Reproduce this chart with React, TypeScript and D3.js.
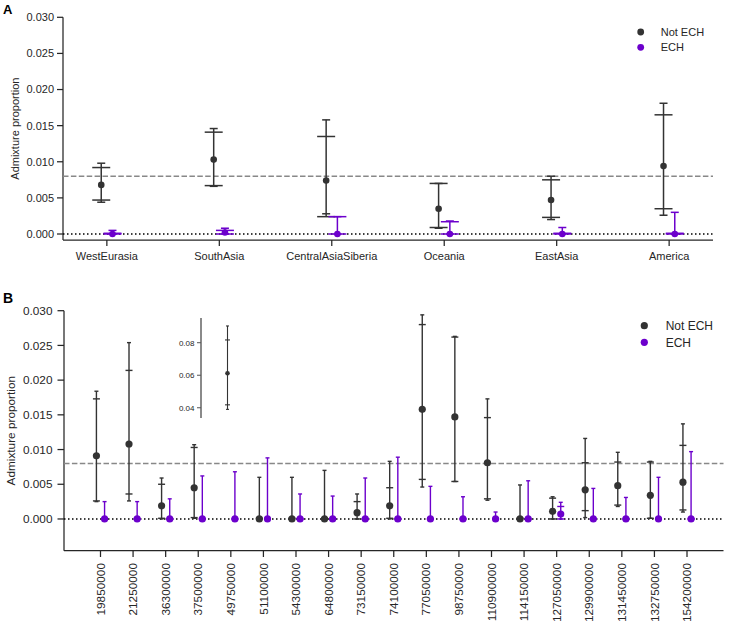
import React from 'react';
import * as d3 from 'd3';

// ---------- Panel A data ----------
const catsA = ['WestEurasia', 'SouthAsia', 'CentralAsiaSiberia', 'Oceania', 'EastAsia', 'America'];
const notEchA_mean = [0.0068, 0.0103, 0.0074, 0.0035, 0.0047, 0.0094];
const notEchA_wideLo = [0.0047, 0.0067, 0.0024, 0.0009, 0.0023, 0.0035];
const notEchA_wideHi = [0.0092, 0.0141, 0.0135, 0.0070, 0.0075, 0.0165];
const notEchA_narrowLo = [0.0044, 0.0066, 0.0028, 0.0008, 0.0020, 0.0026];
const notEchA_narrowHi = [0.0098, 0.0146, 0.0158, 0.0070, 0.0080, 0.0181];
const echA_mean = [0.0000, 0.0002, 0.0000, 0.0000, 0.0000, 0.0000];
const echA_wideLo = [0.0000, 0.0000, 0.0000, 0.0000, 0.0000, 0.0000];
const echA_wideHi = [0.0001, 0.0005, 0.0024, 0.0017, 0.0001, 0.0001];
const echA_narrowLo = [0.0000, 0.0000, 0.0000, 0.0000, 0.0000, 0.0000];
const echA_narrowHi = [0.0005, 0.0008, 0.0024, 0.0018, 0.0009, 0.0030];
const ticksA = [0, 0.005, 0.01, 0.015, 0.02, 0.025, 0.03];

// ---------- Panel B data ----------
const catsB = ['19850000', '21250000', '36300000', '37500000', '49750000', '51100000', '54300000', '64800000', '73150000', '74100000', '77050000', '98750000', '110900000', '114150000', '127050000', '129900000', '131450000', '132750000', '154200000'];
const notEchB_mean = [0.0091, 0.0108, 0.0019, 0.0045, null, 0.0000, 0.0000, 0.0000, 0.0009, 0.0019, 0.0158, 0.0147, 0.0081, 0.0000, 0.0011, 0.0042, 0.0048, 0.0034, 0.0053];
const notEchB_wideLo = [0.0026, 0.0036, 0.0001, 0.0002, null, 0.0000, 0.0000, 0.0000, 0.0000, 0.0001, 0.0057, 0.0054, 0.0029, 0.0000, 0.0000, 0.0012, 0.0020, 0.0001, 0.0013];
const notEchB_wideHi = [0.0173, 0.0214, 0.0050, 0.0103, null, 0.0001, 0.0001, 0.0001, 0.0025, 0.0045, 0.0280, 0.0262, 0.0146, 0.0001, 0.0030, 0.0081, 0.0082, 0.0082, 0.0106];
const notEchB_narrowLo = [0.0025, 0.0026, 0.0000, 0.0001, null, 0.0000, 0.0000, 0.0000, 0.0000, 0.0000, 0.0046, 0.0054, 0.0027, 0.0000, 0.0000, 0.0002, 0.0018, 0.0001, 0.0010];
const notEchB_narrowHi = [0.0184, 0.0254, 0.0059, 0.0107, null, 0.0060, 0.0060, 0.0070, 0.0036, 0.0083, 0.0294, 0.0263, 0.0173, 0.0049, 0.0032, 0.0116, 0.0096, 0.0083, 0.0137];
const echB_mean = [0, 0, 0, 0, 0, 0, 0, 0, 0, 0, 0, 0, 0, 0, 0.0007, 0, 0, 0, 0];
const echB_wideLo = [0, 0, 0, 0, 0, 0, 0, 0, 0, 0, 0, 0, 0, 0, 0.0000, 0, 0, 0, 0];
const echB_wideHi = [0, 0, 0, 0, 0, 0, 0, 0, 0, 0, 0, 0, 0, 0, 0.0018, 0, 0, 0, 0];
const echB_narrowLo = [0, 0, 0, 0, 0, 0, 0, 0, 0, 0, 0, 0, 0, 0, 0.0000, 0, 0, 0, 0];
const echB_narrowHi = [0.0025, 0.0025, 0.0029, 0.0062, 0.0068, 0.0088, 0.0036, 0.0033, 0.0059, 0.0089, 0.0047, 0.0032, 0.0010, 0.0055, 0.0024, 0.0044, 0.0031, 0.0060, 0.0097];
const ticksB = [0, 0.005, 0.01, 0.015, 0.02, 0.025, 0.03];

// ---------- Inset data ----------
const insetCats = ['outlier'];
const inset_mean = [0.0612];
const inset_wideLo = [0.0418];
const inset_wideHi = [0.0817];
const inset_narrowLo = [0.039];
const inset_narrowHi = [0.0903];
const insetTicks = [0.04, 0.06, 0.08];

const threshold = 0.008;
const seriesNames = ['Not ECH', 'ECH'];

const DARK = '#333333';
const PURPLE = '#6c00cc';
const AXIS = '#262626';
const FONT = 'Liberation Sans, Arial, sans-serif';

type EPProps = {
  cx: number; mean: number | null; wlo: number | null; whi: number | null; nlo: number | null; nhi: number | null;
  y: (v: number) => number; color: string; r: number; capW: number; capN: number; sw: number;
};

function ErrorPoint({ cx, mean, wlo, whi, nlo, nhi, y, color, r, capW, capN, sw }: EPProps) {
  if (mean == null || wlo == null || whi == null || nlo == null || nhi == null) return null;
  const lo = Math.min(wlo, nlo);
  const hi = Math.max(whi, nhi);
  return (
    <g>
      <line x1={cx} x2={cx} y1={y(lo)} y2={y(hi)} stroke={color} strokeWidth={sw} />
      <line x1={cx - capN / 2} x2={cx + capN / 2} y1={y(nlo)} y2={y(nlo)} stroke={color} strokeWidth={sw} />
      <line x1={cx - capN / 2} x2={cx + capN / 2} y1={y(nhi)} y2={y(nhi)} stroke={color} strokeWidth={sw} />
      <line x1={cx - capW / 2} x2={cx + capW / 2} y1={y(wlo)} y2={y(wlo)} stroke={color} strokeWidth={sw} />
      <line x1={cx - capW / 2} x2={cx + capW / 2} y1={y(whi)} y2={y(whi)} stroke={color} strokeWidth={sw} />
      <circle cx={cx} cy={y(mean)} r={r} fill={color} />
    </g>
  );
}

export default function App() {
  // Panel A scales
  const xA = d3.scalePoint<string>().domain(catsA).range([63, 713]).padding(0.39);
  const yA = d3.scaleLinear().domain([-0.00083, 0.030]).range([240, 17.3]);
  const dodgeA = xA.step() * 0.05;

  // Panel B scales
  const xB = d3.scalePoint<string>().domain(catsB).range([64, 723.5]).padding(1.12);
  const yB = d3.scaleLinear().domain([-0.00457, 0.030]).range([550.7, 310.7]);
  const dodgeB = xB.step() * 0.125;

  // Inset scales
  const xI = d3.scalePoint<string>().domain(insetCats).range([201, 254]).padding(0.5);
  const yI = d3.scaleLinear().domain([0.0337, 0.0952]).range([418, 318]);

  const fmt = d3.format('.3f');
  const fmtI = d3.format('.2f');

  return (
    <svg width={729} height={623} style={{ position: 'absolute', left: 0, top: 0, display: 'block', background: '#fff' }} fontFamily={FONT}>
      {/* ===== Panel A ===== */}
      <text x={3} y={13.5} fontSize={13} fontWeight="bold" fill="#000">A</text>
      {/* axes */}
      <line x1={63} x2={63} y1={yA(0.030)} y2={240} stroke={AXIS} strokeWidth={1.25} />
      <line x1={63} x2={713} y1={240} y2={240} stroke={AXIS} strokeWidth={1.25} />
      {ticksA.map((t) => (
        <g key={'ta' + t}>
          <line x1={57} x2={63} y1={yA(t)} y2={yA(t)} stroke={AXIS} strokeWidth={1.25} />
          <text x={54} y={yA(t)} dy="0.35em" textAnchor="end" fontSize={11} fill={AXIS}>{fmt(t)}</text>
        </g>
      ))}
      {catsA.map((c) => (
        <g key={'ca' + c}>
          <line x1={xA(c)} x2={xA(c)} y1={240} y2={246} stroke={AXIS} strokeWidth={1.25} />
          <text x={xA(c)} y={260} textAnchor="middle" fontSize={11} fill={AXIS}>{c}</text>
        </g>
      ))}
      <text transform={`translate(15,${(yA(0.03) + 240) / 2}) rotate(-90)`} textAnchor="middle" dy="0.35em" fontSize={11} fill={AXIS}>Admixture proportion</text>
      {/* reference lines */}
      <line x1={63} x2={713} y1={yA(threshold)} y2={yA(threshold)} stroke="#888888" strokeWidth={1.5} strokeDasharray="5.5,2.4" />
      <line x1={63} x2={713} y1={yA(0)} y2={yA(0)} stroke="#000" strokeWidth={1.5} strokeDasharray="1.5,2.5" />
      {catsA.map((c, i) => (
        <ErrorPoint key={'na' + c} cx={(xA(c) as number) - dodgeA} mean={notEchA_mean[i]} wlo={notEchA_wideLo[i]} whi={notEchA_wideHi[i]} nlo={notEchA_narrowLo[i]} nhi={notEchA_narrowHi[i]} y={yA} color={DARK} r={3.3} capW={18} capN={8} sw={1.5} />
      ))}
      {catsA.map((c, i) => (
        <ErrorPoint key={'ea' + c} cx={(xA(c) as number) + dodgeA} mean={echA_mean[i]} wlo={echA_wideLo[i]} whi={echA_wideHi[i]} nlo={echA_narrowLo[i]} nhi={echA_narrowHi[i]} y={yA} color={PURPLE} r={3.3} capW={18} capN={8} sw={1.5} />
      ))}
      {/* legend A */}
      {seriesNames.map((s, i) => (
        <g key={'la' + s}>
          <circle cx={640.7} cy={32 + i * 15.3} r={3.4} fill={i === 0 ? DARK : PURPLE} />
          <text x={660.7} y={32 + i * 15.3} dy="0.35em" fontSize={11} fill={AXIS}>{s}</text>
        </g>
      ))}

      {/* ===== Panel B ===== */}
      <text x={3} y={302.5} fontSize={14} fontWeight="bold" fill="#000">B</text>
      <line x1={64} x2={64} y1={yB(0.030)} y2={550.7} stroke={AXIS} strokeWidth={1.25} />
      <line x1={64} x2={723.5} y1={550.7} y2={550.7} stroke={AXIS} strokeWidth={1.25} />
      {ticksB.map((t) => (
        <g key={'tb' + t}>
          <line x1={57.5} x2={64} y1={yB(t)} y2={yB(t)} stroke={AXIS} strokeWidth={1.25} />
          <text x={52.5} y={yB(t)} dy="0.35em" textAnchor="end" fontSize={11.8} fill={AXIS}>{fmt(t)}</text>
        </g>
      ))}
      {catsB.map((c) => (
        <g key={'cb' + c}>
          <line x1={xB(c)} x2={xB(c)} y1={550.7} y2={557} stroke={AXIS} strokeWidth={1.25} />
          <text transform={`translate(${xB(c)},563) rotate(-90)`} textAnchor="end" dy="0.35em" fontSize={11.8} fill={AXIS}>{c}</text>
        </g>
      ))}
      <text transform={`translate(11,${(yB(0.03) + 550.7) / 2}) rotate(-90)`} textAnchor="middle" dy="0.35em" fontSize={11.8} fill={AXIS}>Admixture proportion</text>
      <line x1={64} x2={723.5} y1={yB(threshold)} y2={yB(threshold)} stroke="#888888" strokeWidth={1.5} strokeDasharray="5.5,2.4" />
      <line x1={64} x2={723.5} y1={yB(0)} y2={yB(0)} stroke="#000" strokeWidth={1.5} strokeDasharray="1.5,2.5" />
      {catsB.map((c, i) => (
        <ErrorPoint key={'nb' + c} cx={(xB(c) as number) - dodgeB} mean={notEchB_mean[i]} wlo={notEchB_wideLo[i]} whi={notEchB_wideHi[i]} nlo={notEchB_narrowLo[i]} nhi={notEchB_narrowHi[i]} y={yB} color={DARK} r={3.6} capW={7} capN={4} sw={1.4} />
      ))}
      {catsB.map((c, i) => (
        <ErrorPoint key={'eb' + c} cx={(xB(c) as number) + dodgeB} mean={echB_mean[i]} wlo={echB_wideLo[i]} whi={echB_wideHi[i]} nlo={echB_narrowLo[i]} nhi={echB_narrowHi[i]} y={yB} color={PURPLE} r={3.6} capW={7} capN={4} sw={1.4} />
      ))}
      {seriesNames.map((s, i) => (
        <g key={'lb' + s}>
          <circle cx={644.3} cy={325.7 + i * 16.6} r={3.6} fill={i === 0 ? DARK : PURPLE} />
          <text x={665.7} y={325.7 + i * 16.6} dy="0.35em" fontSize={12} fill={AXIS}>{s}</text>
        </g>
      ))}

      {/* ===== Inset ===== */}
      <line x1={201} x2={201} y1={318} y2={418} stroke="#8a8a8a" strokeWidth={2} />
      {insetTicks.map((t) => (
        <g key={'ti' + t}>
          <line x1={197} x2={201} y1={yI(t)} y2={yI(t)} stroke="#555" strokeWidth={1} />
          <text x={194.5} y={yI(t)} dy="0.35em" textAnchor="end" fontSize={8} fill={AXIS}>{fmtI(t)}</text>
        </g>
      ))}
      {insetCats.map((c, i) => (
        <ErrorPoint key={'in' + c} cx={xI(c) as number} mean={inset_mean[i]} wlo={inset_wideLo[i]} whi={inset_wideHi[i]} nlo={inset_narrowLo[i]} nhi={inset_narrowHi[i]} y={yI} color={DARK} r={2.3} capW={5} capN={3} sw={1.1} />
      ))}
    </svg>
  );
}
